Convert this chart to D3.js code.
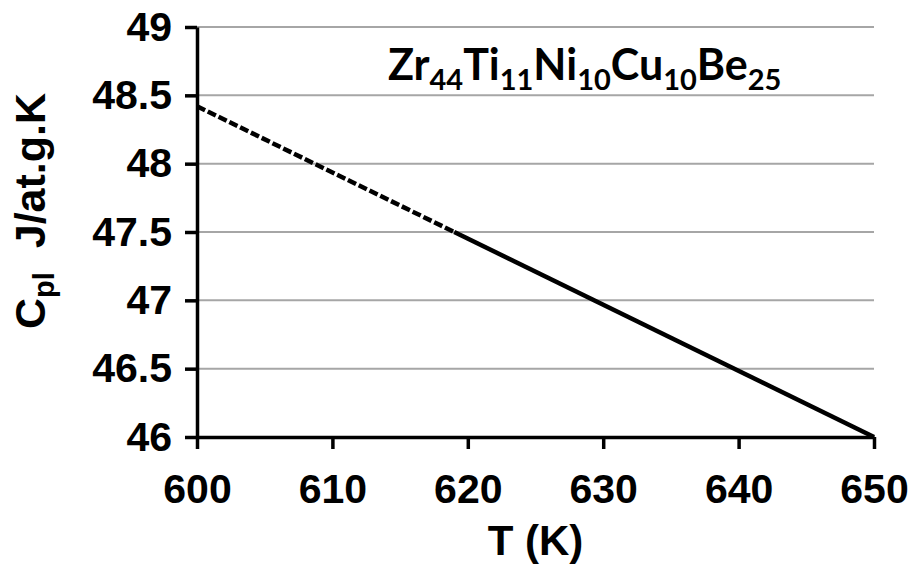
<!DOCTYPE html>
<html>
<head>
<meta charset="utf-8">
<script src="https://cdn.jsdelivr.net/npm/d3@7"></script>
<style>
  body { margin: 0; background: #fff; }
  svg { display: block; }
  .tick text { font-family: "Liberation Sans", Arial, sans-serif; font-weight: bold; }
</style>
</head>
<body>
<svg id="chart" width="911" height="566"></svg>
<script>
// Liquid heat capacity vs temperature
const temps = [600, 619, 650];            // K
const cpDashed = [48.42, 47.50];          // 600 → 619 K
const cpSolid = [47.50, 46.00];           // 619 → 650 K
const xTicks = [600, 610, 620, 630, 640, 650];
const yTicks = [46, 46.5, 47, 47.5, 48, 48.5, 49];
const composition = [["Zr", "44"], ["Ti", "11"], ["Ni", "10"], ["Cu", "10"], ["Be", "25"]];

const svg = d3.select("#chart");
const plotL = 197, plotR = 874, plotT = 27, plotB = 437;

const x = d3.scaleLinear().domain([600, 650]).range([plotL, plotR]);
const y = d3.scaleLinear().domain([46, 49]).range([plotB, plotT]);

// horizontal gridlines
svg.append("g")
  .selectAll("line")
  .data(yTicks.filter(v => v > 46))
  .join("line")
  .attr("x1", plotL).attr("x2", plotR)
  .attr("y1", d => y(d)).attr("y2", d => y(d))
  .attr("stroke", "#a6a6a6").attr("stroke-width", 2);

// axes
const xAxis = svg.append("g")
  .attr("transform", `translate(0,${plotB})`)
  .call(d3.axisBottom(x).tickValues(xTicks).tickFormat(d3.format("d")).tickSize(12).tickSizeOuter(0));
const yAxis = svg.append("g")
  .attr("transform", `translate(${plotL},0)`)
  .call(d3.axisLeft(y).tickValues(yTicks).tickFormat(d => d).tickSize(12).tickSizeOuter(0));

[xAxis, yAxis].forEach(g => {
  g.select(".domain").attr("stroke", "#000").attr("stroke-width", 3.5);
  g.selectAll(".tick line").attr("stroke", "#000").attr("stroke-width", 3.5);
  g.selectAll(".tick text").attr("fill", "#000").attr("font-size", 41);
});
xAxis.selectAll(".tick text").attr("dy", "0").attr("y", 66);
yAxis.selectAll(".tick text").attr("x", -25);

// Cp(T) curve: dashed start, solid remainder
const line = d3.line().x(d => x(d[0])).y(d => y(d[1]));
svg.append("path")
  .datum([[temps[0], cpDashed[0]], [temps[1], cpDashed[1]]])
  .attr("d", line)
  .attr("fill", "none").attr("stroke", "#000")
  .attr("stroke-width", 4.5).attr("stroke-dasharray", "9,3");
svg.append("path")
  .datum([[temps[1], cpSolid[0]], [temps[2], cpSolid[1]]])
  .attr("d", line)
  .attr("fill", "none").attr("stroke", "#000")
  .attr("stroke-width", 4.5);

// composition label
const title = svg.append("text")
  .attr("x", 388).attr("y", 80)
  .attr("font-family", "Lato, 'Open Sans', sans-serif")
  .attr("font-weight", "bold").attr("font-size", 43).attr("fill", "#000");
composition.forEach(([el, n], i) => {
  title.append("tspan").attr("dy", i === 0 ? 0 : -10).text(el);
  title.append("tspan").attr("font-size", 29).attr("dy", 10).text(n);
});

// axis titles
svg.append("text")
  .attr("x", (plotL + plotR) / 2).attr("y", 555)
  .attr("text-anchor", "middle")
  .attr("font-family", "'Liberation Sans', Arial, sans-serif")
  .attr("font-weight", "bold").attr("font-size", 42)
  .text("T (K)");

const yl = svg.append("text")
  .attr("transform", "translate(45,211) rotate(-90)")
  .attr("text-anchor", "middle")
  .attr("font-family", "'Liberation Sans', Arial, sans-serif")
  .attr("font-weight", "bold").attr("font-size", 43);
yl.append("tspan").text("C");
yl.append("tspan").attr("font-size", 29).attr("dy", 9).text("pl");
yl.append("tspan").attr("dy", -9).text("\u00a0 J/at.g.K");
</script>
</body>
</html>
